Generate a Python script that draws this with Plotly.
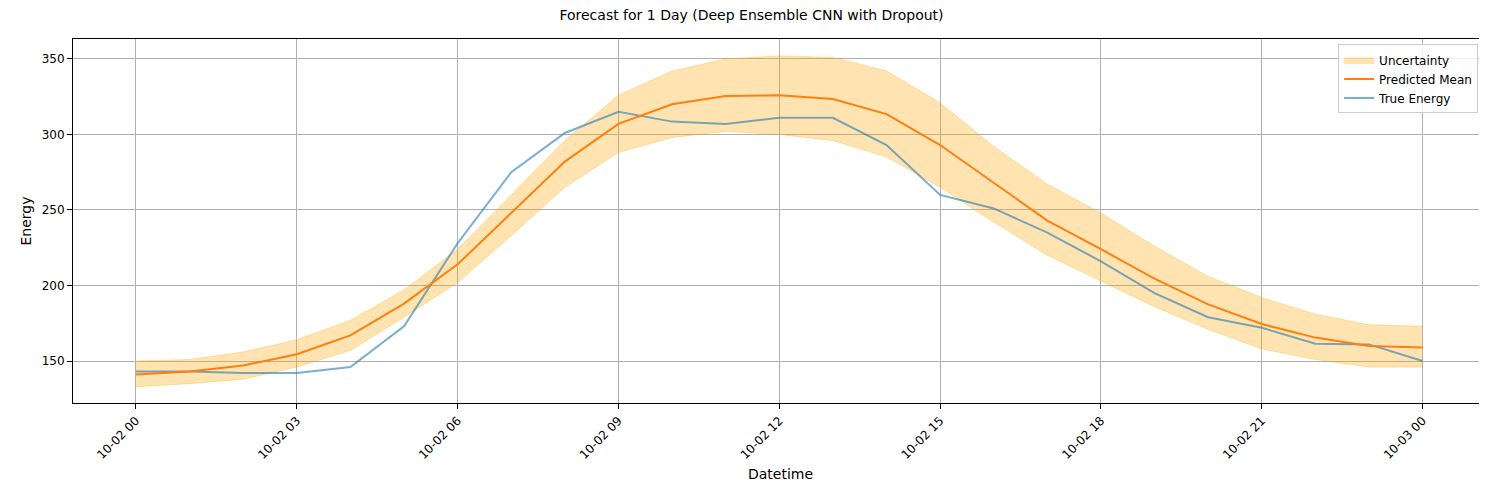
import pandas as pd
import plotly.graph_objects as go

times = pd.date_range("2023-10-02 00:00", periods=25, freq="h")
true_energy = [143, 143, 142, 142, 146, 173, 228, 275, 301, 315, 308.5, 307, 311,
               311, 293, 260, 251, 235, 216, 195, 179, 172, 161.5, 161, 150]
pred_mean = [141, 143, 147, 154.5, 167, 188, 214, 248, 282, 307, 320, 325.5, 326,
             323.5, 313.5, 293, 268, 243, 224, 204.5, 187.5, 174.5, 165.5, 160, 159]
upper = [150, 151, 156, 164, 177, 197, 224, 260, 296, 326, 342, 350, 352,
         351, 342, 321, 292, 267, 248, 226, 206, 192, 181, 174, 173]
lower = [133, 135, 138, 146, 157, 179, 202, 233, 265, 288, 298, 302, 300,
         296, 285, 265, 242, 220, 203, 186, 171, 158, 151, 146, 146]
tick_vals = pd.date_range("2023-10-02 00:00", periods=9, freq="3h")
tick_text = [t.strftime("%m-%d %H") for t in tick_vals]

fig = go.Figure()
fig.add_trace(go.Scatter(x=times, y=upper, mode="lines", line=dict(width=1, color="rgba(255,165,0,0.3)"),
                         showlegend=False, hoverinfo="skip"))
fig.add_trace(go.Scatter(x=times, y=lower, mode="lines", line=dict(width=1, color="rgba(255,165,0,0.3)"),
                         fill="tonexty", fillcolor="rgba(255,165,0,0.3)", name="Uncertainty", legendrank=3))
fig.add_trace(go.Scatter(x=times, y=true_energy, mode="lines", name="True Energy", legendrank=1,
                         line=dict(color="rgba(31,119,180,0.6)", width=2)))
fig.add_trace(go.Scatter(x=times, y=pred_mean, mode="lines", name="Predicted Mean", legendrank=2,
                         line=dict(color="#ff7f0e", width=2)))

axis = dict(showline=True, linecolor="black", mirror=True, showgrid=True, gridcolor="#b0b0b0",
            ticks="outside", tickcolor="black", zeroline=False, automargin=False)
fig.update_layout(
    width=1487, height=489, template="none", plot_bgcolor="white", paper_bgcolor="white",
    font=dict(family="DejaVu Sans", size=12, color="black"),
    margin=dict(l=65, r=7, t=31, b=94),
    title=dict(text="Forecast for 1 Day (Deep Ensemble CNN with Dropout)", x=0.5, y=0.995,
               yanchor="top", xanchor="center", font=dict(size=14)),
    xaxis=dict(axis, title=dict(text="Datetime", standoff=8), tickvals=tick_vals, ticktext=tick_text,
               tickangle=-45, range=[pd.Timestamp("2023-10-02") - pd.Timedelta(hours=1.175),
                                     pd.Timestamp("2023-10-02") + pd.Timedelta(hours=25.22)]),
    yaxis=dict(axis, title=dict(text="Energy", standoff=6), range=[122.2, 363.2],
               tickvals=[150, 200, 250, 300, 350]),
    legend=dict(x=0.993, y=0.985, xanchor="right", yanchor="top", bordercolor="#cccccc",
                borderwidth=1, bgcolor="rgba(255,255,255,0.8)"),
)
fig.write_html("out.html")
